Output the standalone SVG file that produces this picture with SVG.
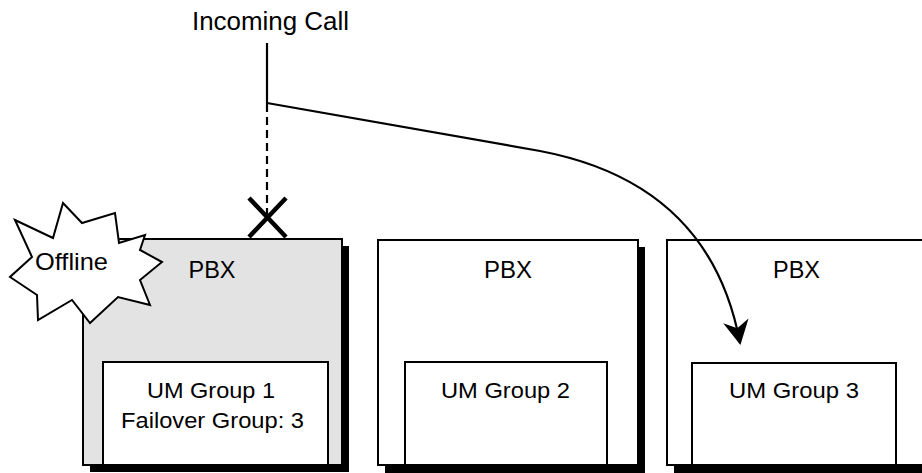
<svg xmlns="http://www.w3.org/2000/svg" width="922" height="473" viewBox="0 0 922 473">
<style>
  text { font-family: "Liberation Sans", Arial, sans-serif; fill: #000; text-anchor: middle; }
  .box { stroke: #000; stroke-width: 2; fill: #fff; }
  .shadow { fill: #000; }
  .inner { stroke: #000; stroke-width: 2; fill: #fff; }
  .conn { fill: none; stroke: #000; stroke-width: 2.2; }
</style>
<defs>
  <marker id="arrow" markerUnits="userSpaceOnUse" markerWidth="30" markerHeight="30" viewBox="-24 -14 28 28" refX="0" refY="0" orient="auto">
    <path d="M2,0 L-21,-12 L-14,0 L-21,12 Z" fill="#000"/>
  </marker>
</defs>
<rect width="922" height="473" fill="#fff"/>

<g id="title">
  <text x="270.5" y="30" font-size="25" textLength="157" lengthAdjust="spacingAndGlyphs">Incoming Call</text>
</g>

<g id="pbx1">
  <rect class="shadow" x="90" y="246" width="259" height="226"/>
  <rect class="box" x="83" y="239" width="259" height="226" style="fill:#e3e3e3"/>
  <text x="212" y="278" font-size="23" textLength="47" lengthAdjust="spacingAndGlyphs">PBX</text>
</g>
<g id="umgroup1">
  <rect class="inner" x="103" y="362" width="225" height="103"/>
  <text x="211" y="398" font-size="22.5" textLength="128" lengthAdjust="spacingAndGlyphs">UM Group 1</text>
  <text x="212.5" y="428" font-size="22.5" textLength="183" lengthAdjust="spacingAndGlyphs">Failover Group: 3</text>
</g>

<g id="pbx2">
  <rect class="shadow" x="385" y="247" width="260" height="226"/>
  <rect class="box" x="378" y="240" width="260" height="225"/>
  <text x="508" y="278" font-size="23" textLength="48" lengthAdjust="spacingAndGlyphs">PBX</text>
</g>
<g id="umgroup2">
  <rect class="inner" x="405" y="362" width="202" height="103"/>
  <text x="505.5" y="398" font-size="22.5" textLength="129" lengthAdjust="spacingAndGlyphs">UM Group 2</text>
</g>

<g id="pbx3">
  <rect class="shadow" x="674" y="247" width="260" height="226"/>
  <rect class="box" x="667" y="240" width="260" height="225"/>
  <text x="796.5" y="278" font-size="23" textLength="47" lengthAdjust="spacingAndGlyphs">PBX</text>
</g>
<g id="umgroup3">
  <rect class="inner" x="692" y="363" width="204" height="102"/>
  <text x="794" y="398" font-size="22.5" textLength="130" lengthAdjust="spacingAndGlyphs">UM Group 3</text>
</g>

<g id="offline">
  <polygon points="15,220 53,238 63,203 82,223 115,213 119,243 145,235 140,250 162,262 140,280 150,305 118,297 90,323 72,300 38,320 37,295 10,277 32,257" fill="#fff" stroke="#000" stroke-width="2" stroke-linejoin="miter"/>
  <text x="71.5" y="270" font-size="24" textLength="73" lengthAdjust="spacingAndGlyphs">Offline</text>
</g>

<g id="connectors">
  <line class="conn" x1="267" y1="43" x2="267" y2="104"/>
  <line class="conn" x1="267" y1="104" x2="267" y2="214" stroke-dasharray="8,5"/>
  <path class="conn" d="M267,103 L540,151 C640,170 718,225 740,343" marker-end="url(#arrow)"/>
  <g id="blocked" stroke="#000" stroke-width="4.5">
    <line x1="249" y1="198" x2="286" y2="237"/>
    <line x1="286" y1="198" x2="249" y2="237"/>
  </g>
</g>
</svg>
